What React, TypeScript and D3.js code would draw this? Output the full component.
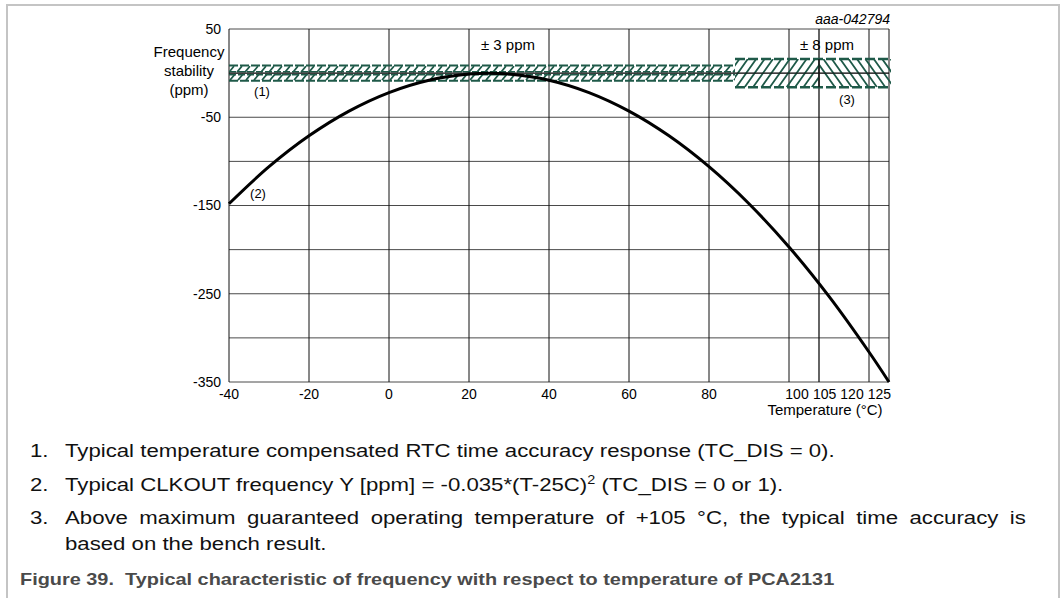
import React from "react";
import * as d3 from "d3";

// ---- data ----
const curveTemps = [-40, -30, -20, -10, 0, 10, 20, 25, 30, 40, 50, 60, 70, 80, 90, 100, 110, 120, 125];
const curvePpm = [-148, -106, -71, -43, -22, -8, -1, 0, -1, -8, -22, -43, -71, -106, -148, -197, -253, -316, -350];

const xGridTemps = [-40, -20, 0, 20, 40, 60, 80, 100, 120, 125];
const ruleTemp = 107.5; // vertical rule as drawn, labelled "105"
const xTickLabels = ["-40", "-20", "0", "20", "40", "60", "80", "100", "105", "120", "125"];
const xTickLabelTemps = [-40, -20, 0, 20, 40, 60, 80, 102, 108.9, 115.75, 122.6];

const yGridPpm = [50, 0, -50, -100, -150, -200, -250, -300, -350];
const yTickLabels = [50, -50, -150, -250, -350];

// tolerance bands (as drawn): [startTemp, endTemp, halfWidthPpm]
const bandStarts = [-40, 86.5];
const bandEnds = [86.5, 125.5];
const bandHalf = [8.5, 16];
const bandLabels = ["± 3 ppm", "± 8 ppm"];
const bandLabelTemps = [29.75, 109.5];

const notes = [
  "Typical temperature compensated RTC time accuracy response (TC_DIS = 0).",
  "Typical CLKOUT frequency Y [ppm] = -0.035*(T-25C)",
  "Above maximum guaranteed operating temperature of +105 °C, the typical time accuracy is",
];

const GREEN = "#1f5a49";
const FONT = "Liberation Sans, Arial, Helvetica, sans-serif";
const NOTE_SX = 1.2;
const CAP_SX = 1.17;

export default function App() {
  const x = d3.scaleLinear().domain([-40, 125]).range([229, 889]);
  const y = d3.scaleLinear().domain([-350, 50]).range([382, 29]);

  const line = d3
    .line<number>()
    .x((_, i) => x(curveTemps[i]))
    .y((d) => y(d))
    .curve(d3.curveCatmullRom);

  const ruleX = x(ruleTemp);

  const lx0 = x(bandStarts[0]);
  const lx1 = x(bandEnds[0]);
  const lTop = y(bandHalf[0]);
  const lMid = y(0);
  const lBot = y(-bandHalf[0]);
  const rx0 = x(bandStarts[1]);
  const rx1 = x(bandEnds[1]);
  const rTop = y(bandHalf[1]);
  const rBot = y(-bandHalf[1]);

  const leftDiag: string[] = [];
  for (const xx of d3.range(lx0 - 8, lx1 + 8, 8)) {
    leftDiag.push(`M${xx},${lMid - 1} L${xx + 5},${lTop + 0.5}`);
    leftDiag.push(`M${xx + 1},${lBot - 0.5} L${xx + 6},${lMid + 1}`);
  }
  const rightDiagA: string[] = [];
  for (const xx of d3.range(rx0 - 24, ruleX + 4, 8.4)) {
    rightDiagA.push(`M${xx},${rBot} L${xx + 20},${rTop}`);
  }
  const rightDiagB: string[] = [];
  for (const xx of d3.range(ruleX - 4, rx1 + 24, 8.4)) {
    rightDiagB.push(`M${xx},${rTop} L${xx + 20},${rBot}`);
  }

  const noteRows = [
    { n: "1.", y: 457 },
    { n: "2.", y: 491 },
    { n: "3.", y: 524 },
  ];

  return (
    <svg
      width={1063}
      height={598}
      style={{ position: "absolute", left: 0, top: 0, background: "#fff" }}
      fontFamily={FONT}
    >
      <defs>
        <clipPath id="clipL">
          <rect x={lx0} y={lTop} width={lx1 - lx0} height={lBot - lTop} />
        </clipPath>
        <clipPath id="clipRA">
          <rect x={rx0} y={rTop} width={ruleX - rx0} height={rBot - rTop} />
        </clipPath>
        <clipPath id="clipRB">
          <rect x={ruleX} y={rTop} width={rx1 - ruleX} height={rBot - rTop} />
        </clipPath>
      </defs>

      <rect x={7} y={5} width={1052} height={640} fill="none" stroke="#c4c4c4" strokeWidth={2} />

      {yGridPpm.map((v) => (
        <line key={"h" + v} x1={x(-40)} x2={x(125)} y1={y(v)} y2={y(v)} stroke="#4a4a4a" strokeWidth={1} />
      ))}
      {xGridTemps.map((t) => (
        <line key={"v" + t} x1={x(t)} x2={x(t)} y1={y(50)} y2={y(-350)} stroke="#111" strokeWidth={1} />
      ))}
      <line x1={ruleX} x2={ruleX} y1={y(50)} y2={y(-350)} stroke="#111" strokeWidth={1.3} />

      <g clipPath="url(#clipL)">
        <path d={leftDiag.join(" ")} stroke={GREEN} strokeWidth={1.6} fill="none" />
      </g>
      <line x1={lx0} x2={lx1} y1={lTop} y2={lTop} stroke={GREEN} strokeWidth={2} strokeDasharray="9 2" />
      <line x1={lx0} x2={lx1} y1={lMid - 1.5} y2={lMid - 1.5} stroke={GREEN} strokeWidth={1.5} strokeDasharray="7 2" />
      <line x1={lx0} x2={lx1} y1={lMid + 1.5} y2={lMid + 1.5} stroke={GREEN} strokeWidth={1.5} strokeDasharray="7 2" />
      <line x1={lx0} x2={lx1} y1={lBot} y2={lBot} stroke={GREEN} strokeWidth={2} strokeDasharray="9 2" />
      <line x1={lx0} x2={lx1} y1={lMid} y2={lMid} stroke="#111" strokeWidth={1} />

      <g clipPath="url(#clipRA)">
        <path d={rightDiagA.join(" ")} stroke={GREEN} strokeWidth={1.8} fill="none" />
      </g>
      <g clipPath="url(#clipRB)">
        <path d={rightDiagB.join(" ")} stroke={GREEN} strokeWidth={1.8} fill="none" />
      </g>
      <line x1={rx0} x2={rx1} y1={rTop} y2={rTop} stroke={GREEN} strokeWidth={2.6} strokeDasharray="10 3" />
      <line x1={rx0} x2={rx1} y1={rBot} y2={rBot} stroke={GREEN} strokeWidth={2.6} strokeDasharray="10 3" />
      <line x1={rx0} x2={x(125)} y1={y(0)} y2={y(0)} stroke="#111" strokeWidth={1} />
      <line x1={ruleX} x2={ruleX} y1={rTop} y2={rBot} stroke="#111" strokeWidth={1.3} />

      <path d={line(curvePpm) || ""} fill="none" stroke="#000" strokeWidth={3} />

      {yTickLabels.map((v) => (
        <text key={"yl" + v} x={221} y={y(v)} dy="0.35em" textAnchor="end" fontSize={14} fill="#000">
          {v}
        </text>
      ))}
      {xTickLabels.map((l, i) => (
        <text key={"xl" + l} x={x(xTickLabelTemps[i])} y={399} textAnchor="middle" fontSize={14} fill="#000">
          {l}
        </text>
      ))}
      <text x={825} y={415} textAnchor="middle" fontSize={15} fill="#000">
        Temperature (°C)
      </text>

      <text textAnchor="middle" fontSize={15} fill="#000">
        <tspan x={189} y={57}>Frequency</tspan>
        <tspan x={189} y={76}>stability</tspan>
        <tspan x={189} y={95}>(ppm)</tspan>
      </text>

      {bandLabels.map((l, i) => (
        <text key={l} x={x(bandLabelTemps[i])} y={50} textAnchor="middle" fontSize={15} fill="#000">
          {l}
        </text>
      ))}
      <text x={890} y={24} textAnchor="end" fontSize={14} fontStyle="italic" fill="#000">
        aaa-042794
      </text>

      <text x={262} y={96} textAnchor="middle" fontSize={13} fill="#000">(1)</text>
      <text x={258} y={198} textAnchor="middle" fontSize={13} fill="#000">(2)</text>
      <text x={847} y={104} textAnchor="middle" fontSize={13} fill="#000">(3)</text>

      <g fontSize={18.5} fill="#111">
        {noteRows.map((r) => (
          <text key={r.n} transform={`translate(30,${r.y}) scale(${NOTE_SX},1)`}>
            {r.n}
          </text>
        ))}
        <text transform={`translate(65,457) scale(${NOTE_SX},1)`}>{notes[0]}</text>
        <text transform={`translate(65,491) scale(${NOTE_SX},1)`}>
          {notes[1]}
          <tspan fontSize={12} dy={-7}>2</tspan>
          <tspan dy={7}> (TC_DIS = 0 or 1).</tspan>
        </text>
        <text transform={`translate(65,524) scale(${NOTE_SX},1)`} wordSpacing={4.4}>
          {notes[2]}
        </text>
        <text transform={`translate(65,550) scale(${NOTE_SX},1)`}>based on the bench result.</text>
      </g>

      <text
        transform={`translate(20,585) scale(${CAP_SX},1)`}
        fontSize={17}
        fontWeight="bold"
        fill="#4a4a4a"
        style={{ whiteSpace: "pre" }}
      >
        {"Figure 39.  Typical characteristic of frequency with respect to temperature of PCA2131"}
      </text>
    </svg>
  );
}
